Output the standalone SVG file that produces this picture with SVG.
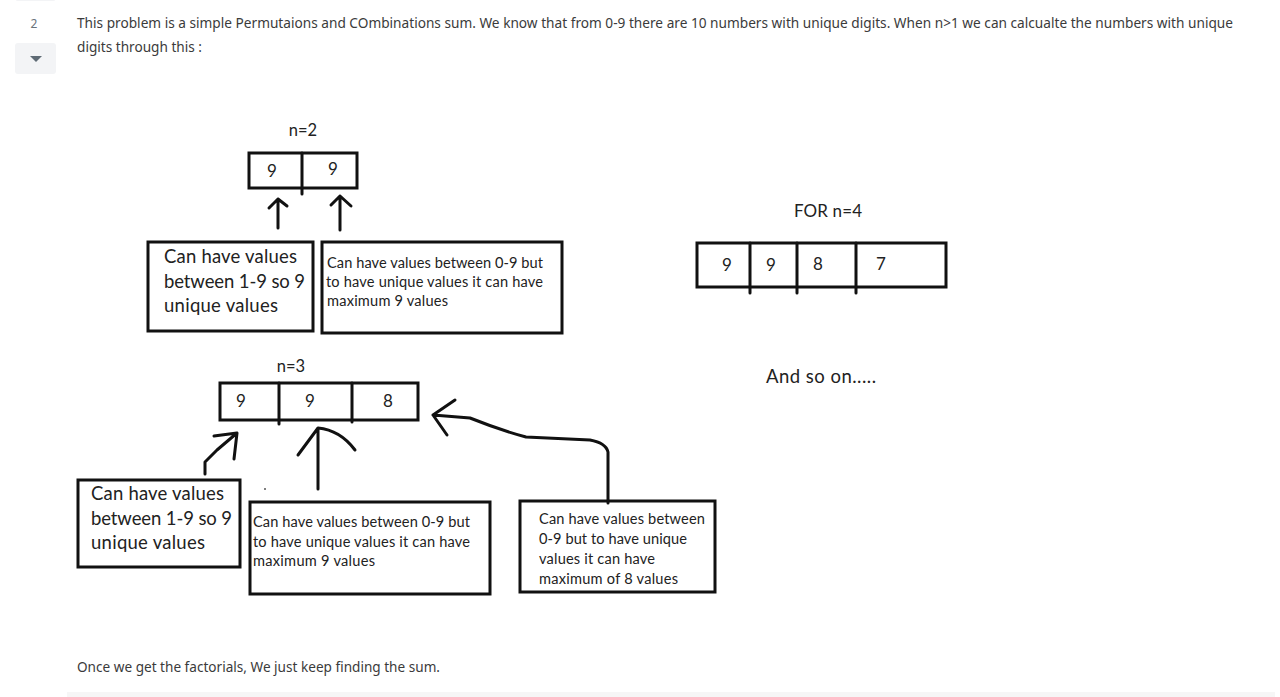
<svg xmlns="http://www.w3.org/2000/svg" width="1280" height="697" viewBox="0 0 1280 697">
<style>
.page{font-family:"Noto Sans","Open Sans",sans-serif;font-size:14px;fill:#3b3b3b}
.d{font-family:Lato,"Liberation Sans",sans-serif;fill:#222}
.big{font-size:18.5px}
.sm{font-size:14.6px}
.num{font-size:17px;text-anchor:middle}
.box{fill:#fff;stroke:#111;stroke-width:3}
.ln{fill:none;stroke:#111;stroke-width:3;stroke-linecap:round;stroke-linejoin:round}
</style>
<rect width="1280" height="697" fill="#fff"/>
<g id="sidebar">
<rect x="15" y="-10" width="41" height="11" rx="3" fill="#f3f4f6"/>
<text x="34" y="28" text-anchor="middle" style="font-family:'Noto Sans',sans-serif;fill:#6a737c;font-size:12px">2</text>
<rect x="15" y="43" width="41" height="31" rx="3" fill="#f3f4f6"/>
<path d="M30 56 L42 56 L36 62 Z" fill="#5f6b75"/>
</g>
<g id="intro">
<text class="page" x="77" y="28" textLength="1156" lengthAdjust="spacingAndGlyphs">This problem is a simple Permutaions and COmbinations sum. We know that from 0-9 there are 10 numbers with unique digits. When n&gt;1 we can calcualte the numbers with unique</text>
<text class="page" x="77" y="52" textLength="125" lengthAdjust="spacingAndGlyphs">digits through this :</text>
</g>
<g id="n2">
<text class="d" x="303" y="136" font-size="16.5" text-anchor="middle">n=2</text>
<rect class="box" x="249" y="153" width="108" height="35"/>
<line class="ln" x1="302" y1="153" x2="302" y2="194" stroke-linecap="butt"/>
<text class="d num" x="272" y="177">9</text>
<text class="d num" x="333" y="175">9</text>
</g>
<g id="n2-left-note">
<rect class="box" x="148" y="242" width="165" height="89"/>
<text class="d big" x="164" y="263" textLength="133">Can have values</text>
<text class="d big" x="164" y="288" textLength="141">between 1-9 so 9</text>
<text class="d big" x="164" y="312" textLength="114">unique values</text>
</g>
<g id="n2-right-note">
<rect class="box" x="322" y="242" width="240" height="91"/>
<text class="d sm" x="327" y="268" textLength="216">Can have values between 0-9 but</text>
<text class="d sm" x="326" y="287" textLength="217">to have unique values it can have</text>
<text class="d sm" x="327" y="306" textLength="121">maximum 9 values</text>
</g>
<g id="n4">
<text class="d" x="828" y="217" font-size="17" text-anchor="middle" textLength="68">FOR n=4</text>
<rect class="box" x="697" y="243" width="249" height="44"/>
<line class="ln" x1="750" y1="243" x2="750" y2="293" stroke-linecap="butt"/>
<line class="ln" x1="797" y1="243" x2="797" y2="293" stroke-linecap="butt"/>
<line class="ln" x1="856" y1="243" x2="856" y2="293" stroke-linecap="butt"/>
<text class="d num" x="727" y="271">9</text>
<text class="d num" x="771" y="271">9</text>
<text class="d num" x="818" y="270">8</text>
<text class="d num" x="881" y="270">7</text>
</g>
<g id="and-so-on">
<text class="d big" x="766" y="383" textLength="110">And so on.....</text>
</g>
<g id="n3">
<text class="d" x="291" y="372" font-size="16.5" text-anchor="middle">n=3</text>
<rect class="box" x="220" y="383" width="198" height="37"/>
<line class="ln" x1="279" y1="383" x2="279" y2="424" stroke-linecap="butt"/>
<line class="ln" x1="352" y1="383" x2="352" y2="422" stroke-linecap="butt"/>
<text class="d num" x="241" y="407">9</text>
<text class="d num" x="310" y="407">9</text>
<text class="d num" x="388" y="407">8</text>
</g>
<g id="n3-left-note">
<rect class="box" x="78" y="480" width="162" height="87"/>
<text class="d big" x="91" y="500" textLength="133">Can have values</text>
<text class="d big" x="91" y="525" textLength="141">between 1-9 so 9</text>
<text class="d big" x="91" y="549" textLength="114">unique values</text>
</g>
<g id="n3-mid-note">
<rect class="box" x="250" y="502" width="240" height="92"/>
<text class="d sm" x="253" y="527" textLength="217">Can have values between 0-9 but</text>
<text class="d sm" x="253" y="547" textLength="217">to have unique values it can have</text>
<text class="d sm" x="253" y="566" textLength="122">maximum 9 values</text>
</g>
<g id="n3-right-note">
<rect class="box" x="520" y="501" width="195" height="91"/>
<text class="d sm" x="539" y="524" textLength="166">Can have values between</text>
<text class="d sm" x="539" y="544" textLength="148">0-9 but to have unique</text>
<text class="d sm" x="539" y="564" textLength="116">values it can have</text>
<text class="d sm" x="539" y="584" textLength="139">maximum of 8 values</text>
</g>
<g id="connectors">
<path class="ln" d="M278 228 L278 199 M269 208 L278 199 L287 206"/>
<path class="ln" d="M340 230 L340 196 M331 205 L340 196 L351 206"/>
<path class="ln" d="M205 474 L205 462 L217 450 L237 433 M214 436 L237 433 L234 459"/>
<path class="ln" d="M318 489 L318 428 M298 455 L318 428 Q340 430 355 450"/>
<path class="ln" d="M608 503 L608 452 Q606 443 590 440 L526 437 Q500 430 470 418 L433 415 M455 400 L433 415 L447 435"/>
<circle cx="265" cy="489" r="1" fill="#555"/>
</g>
<g id="outro">
<text class="page" x="77" y="672" textLength="363" lengthAdjust="spacingAndGlyphs">Once we get the factorials, We just keep finding the sum.</text>
<rect x="67" y="692" width="1208" height="5" fill="#f6f6f6"/>
</g>
</svg>
